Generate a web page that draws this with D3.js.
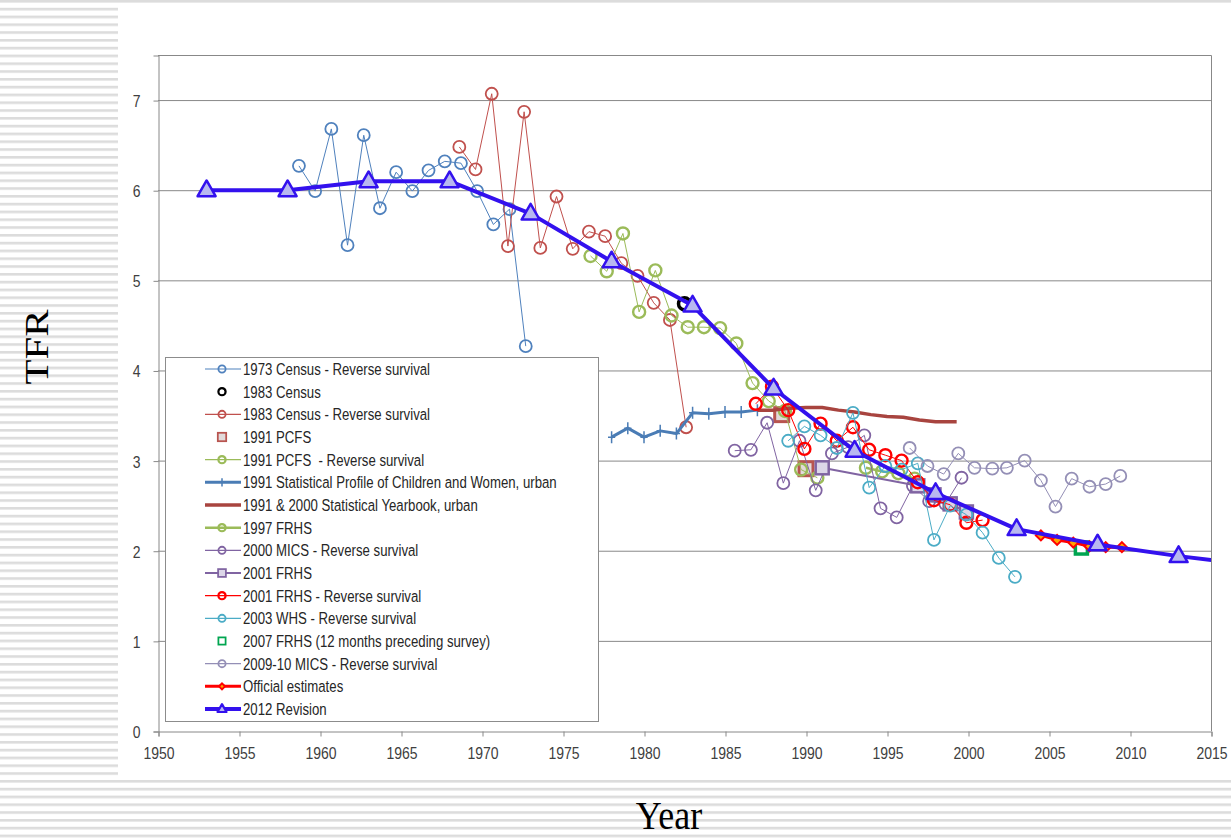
<!DOCTYPE html>
<html>
<head>
<meta charset="utf-8">
<script src="https://cdn.jsdelivr.net/npm/d3@7"></script>
<style>
  html, body { margin: 0; padding: 0; background: #fff; }
  svg { display: block; }
</style>
</head>
<body>
<svg id="chart" width="1231" height="838"></svg>
<script>
// ---- Data: total fertility rate estimates by source, [year, TFR] ----
const census1973RS = [[1958.7,6.27],[1959.7,5.99],[1960.7,6.68],[1961.7,5.39],[1962.7,6.61],[1963.7,5.80],[1964.7,6.20],[1965.7,5.99],[1966.7,6.22],[1967.7,6.32],[1968.7,6.30],[1969.7,5.99],[1970.7,5.62],[1971.7,5.79],[1972.7,4.27]];
const census1983 = [[1982.5,4.74]];
const census1983RS = [[1968.6,6.48],[1969.6,6.23],[1970.6,7.07],[1971.6,5.38],[1972.6,6.87],[1973.6,5.36],[1974.6,5.93],[1975.6,5.35],[1976.6,5.54],[1977.6,5.49],[1978.6,5.19],[1979.6,5.05],[1980.6,4.75],[1981.6,4.56],[1982.6,3.37]];
const pcfs1991 = [[1988.5,3.51],[1990.0,2.91]];
const pcfs1991RS = [[1976.7,5.27],[1977.7,5.10],[1978.7,5.52],[1979.7,4.65],[1980.7,5.11],[1981.7,4.61],[1982.7,4.48],[1983.7,4.48],[1984.7,4.47],[1985.7,4.30],[1986.7,3.86],[1987.7,3.66],[1988.7,3.55],[1989.7,2.90],[1990.7,2.81]];
const statProfile1991 = [[1978,3.26],[1979,3.36],[1980,3.26],[1981,3.33],[1982,3.30],[1983,3.53],[1984,3.52],[1985,3.54],[1986,3.54],[1987,3.56]];
const yearbookUrban = [[1987,3.56],[1988,3.56],[1989,3.58],[1990,3.59],[1991,3.59],[1992,3.56],[1993,3.54],[1994,3.51],[1995,3.49],[1996,3.48],[1997,3.45],[1998,3.43],[1999.3,3.43]];
const frhs1997 = [[1993.7,2.92],[1994.7,2.88],[1995.7,2.86],[1996.7,2.80]];
const mics2000RS = [[1985.6,3.11],[1986.6,3.12],[1987.6,3.42],[1988.6,2.75],[1989.6,3.22],[1990.6,2.67],[1991.6,3.08],[1992.6,3.15],[1993.6,3.28],[1994.6,2.47],[1995.6,2.37],[1996.6,2.72],[1997.6,2.55],[1998.6,2.52],[1999.6,2.81]];
const frhs2001 = [[1991.0,2.92],[1996.9,2.72],[1997.9,2.62],[1998.9,2.52],[1999.9,2.43]];
const frhs2001RS = [[1986.9,3.63],[1987.9,3.82],[1988.9,3.56],[1989.9,3.13],[1990.9,3.41],[1991.9,3.22],[1992.9,3.37],[1993.9,3.12],[1994.9,3.06],[1995.9,3.00],[1996.9,2.76],[1997.9,2.56],[1998.9,2.51],[1999.9,2.31],[2000.9,2.34]];
const whs2003RS = [[1988.9,3.22],[1989.9,3.38],[1990.9,3.28],[1991.9,3.14],[1992.9,3.53],[1993.9,2.70],[1994.9,2.94],[1995.9,2.90],[1996.9,2.97],[1997.9,2.12],[1998.9,2.50],[1999.9,2.40],[2000.9,2.20],[2001.9,1.92],[2002.9,1.71]];
const frhs2007 = [[2007.0,2.03]];
const mics2010RS = [[1996.4,3.14],[1997.5,2.94],[1998.5,2.85],[1999.4,3.08],[2000.4,2.92],[2001.5,2.91],[2002.4,2.92],[2003.5,3.00],[2004.5,2.78],[2005.4,2.49],[2006.4,2.80],[2007.5,2.71],[2008.5,2.74],[2009.4,2.83]];
const officialEstimates = [[2004.5,2.17],[2005.5,2.12],[2006.5,2.09],[2007.5,2.05],[2008.5,2.04],[2009.5,2.04]];
const revision2012 = [[1953,6.00],[1958,6.00],[1963,6.10],[1968,6.10],[1973,5.74],[1978,5.21],[1983,4.72],[1988,3.80],[1993,3.11],[1998,2.64],[2003,2.24],[2008,2.07],[2013,1.94],[2018,1.83]];

const yearTicks = [1950,1955,1960,1965,1970,1975,1980,1985,1990,1995,2000,2005,2010,2015];
const tfrTicks = [0,1,2,3,4,5,6,7];

// Series styling, in drawing / legend order
const series = [
  {name: "1973 Census - Reverse survival", data: census1973RS, color: "#4f81bd", lw: 1, marker: "circle", ms: 6, mw: 1.8},
  {name: "1983 Census", data: census1983, color: "#000000", lw: 0, marker: "circle", ms: 6, mw: 3.5},
  {name: "1983 Census - Reverse survival", data: census1983RS, color: "#c0504d", lw: 1, marker: "circle", ms: 6, mw: 1.8},
  {name: "1991 PCFS", data: pcfs1991, color: "#b8544f", lw: 0, marker: "square", ms: 14, mw: 3, fill: "#e2dada"},
  {name: "1991 PCFS  - Reverse survival", data: pcfs1991RS, color: "#9bbb59", lw: 1, marker: "circle", ms: 6, mw: 2.4},
  {name: "1991 Statistical Profile of Children and Women, urban", data: statProfile1991, color: "#4a7cb5", lw: 3, marker: "plus", ms: 12, mw: 1.5},
  {name: "1991 & 2000 Statistical Yearbook, urban", data: yearbookUrban, color: "#a8443f", lw: 3.5, marker: null},
  {name: "1997 FRHS", data: frhs1997, color: "#9bbb59", lw: 2.5, marker: "circle", ms: 6, mw: 2.4},
  {name: "2000 MICS - Reverse survival", data: mics2000RS, color: "#8064a2", lw: 1, marker: "circle", ms: 6, mw: 1.8},
  {name: "2001 FRHS", data: frhs2001, color: "#8064a2", lw: 2, marker: "square", ms: 13, mw: 2.5, fill: "#dcd6e8"},
  {name: "2001 FRHS - Reverse survival", data: frhs2001RS, color: "#ff0000", lw: 1, marker: "circle", ms: 6, mw: 2.4},
  {name: "2003 WHS - Reverse survival", data: whs2003RS, color: "#4bacc6", lw: 1, marker: "circle", ms: 6, mw: 1.8},
  {name: "2007 FRHS (12 months preceding survey)", data: frhs2007, color: "#00a550", lw: 0, marker: "square", ms: 12, mw: 3.5, fill: "#ffffff"},
  {name: "2009-10 MICS - Reverse survival", data: mics2010RS, color: "#948fb6", lw: 1, marker: "circle", ms: 6, mw: 1.8},
  {name: "Official estimates", data: officialEstimates, color: "#ff0000", lw: 3, marker: "diamond", ms: 10, mw: 2, fill: "#ffa200"},
  {name: "2012 Revision", data: revision2012, color: "#3311ee", lw: 4, marker: "triangle", ms: 18, mw: 2.5, fill: "#b8b8f0"}
];

// ---- Layout ----
const W = 1231, H = 838;
const plot = {left: 158, right: 1211, top: 55, bottom: 731};
const svg = d3.select("#chart");

const x = d3.scaleLinear().domain([1950, 2015]).range([plot.left, plot.right]);
const y = d3.scaleLinear().domain([0, 7.5]).range([plot.bottom, plot.top]);

// Slide background: light horizontal stripes around a white panel
const defs = svg.append("defs");
const pat = defs.append("pattern").attr("id", "stripes")
  .attr("patternUnits", "userSpaceOnUse").attr("width", 8).attr("height", 7.8);
pat.append("rect").attr("width", 8).attr("height", 7.8).attr("fill", "#ffffff");
pat.append("rect").attr("y", 0).attr("width", 8).attr("height", 2.6).attr("fill", "#dcdcdc");
defs.append("clipPath").attr("id", "plotClip").append("rect")
  .attr("x", plot.left).attr("y", plot.top - 10)
  .attr("width", plot.right - plot.left).attr("height", plot.bottom - plot.top + 20);

svg.append("rect").attr("width", W).attr("height", H).attr("fill", "url(#stripes)");
svg.append("rect").attr("x", 118).attr("y", 7).attr("width", W - 118).attr("height", 773).attr("fill", "#ffffff");

// Text helper: glyphs are drawn slightly taller than wide
function place(sel, tx, ty, sy, rot) {
  sel.attr("x", null).attr("y", null).attr("dy", null)
     .attr("transform", `translate(${tx},${ty})${rot ? ` rotate(${rot})` : ""} scale(${rot ? sy : 1},${rot ? 1 : sy})`);
}

const gridColor = "#888888";

// Horizontal gridlines
svg.append("g").selectAll("line").data(tfrTicks.filter(d => d > 0)).join("line")
  .attr("x1", plot.left).attr("x2", plot.right)
  .attr("y1", d => y(d) + 0.5).attr("y2", d => y(d) + 0.5)
  .attr("stroke", gridColor).attr("stroke-width", 1);

// Plot frame (top and right edges)
svg.append("path")
  .attr("d", `M${plot.left},${plot.top + 0.5}H${plot.right + 0.5}V${plot.bottom}`)
  .attr("fill", "none").attr("stroke", gridColor).attr("stroke-width", 1);

// Axes
const yAxis = svg.append("g").attr("transform", `translate(${plot.left + 0.5},0.5)`)
  .call(d3.axisLeft(y).tickValues(tfrTicks).tickSize(5).tickFormat(d3.format("d")));
const xAxis = svg.append("g").attr("transform", `translate(0.5,${plot.bottom + 0.5})`)
  .call(d3.axisBottom(x).tickValues(yearTicks).tickSize(5).tickFormat(d3.format("d")));

[yAxis, xAxis].forEach(g => {
  g.select(".domain").attr("stroke", gridColor);
  g.selectAll(".tick line").attr("stroke", gridColor);
  g.selectAll(".tick text").attr("fill", "#404040")
    .style("font-family", "'Liberation Sans', Arial, sans-serif").style("font-size", "14px");
});
yAxis.selectAll(".tick text").each(function() { place(d3.select(this), -18, 6, 1.18); });
xAxis.selectAll(".tick text").each(function() { place(d3.select(this), 0, 27, 1.18); });

// Marker drawing
function drawMarker(g, s, cx, cy, scale) {
  const k = scale || 1;
  const fill = s.fill || "none";
  if (s.marker === "circle") {
    g.append("circle").attr("cx", cx).attr("cy", cy).attr("r", s.ms * k)
      .attr("fill", "none").attr("stroke", s.color).attr("stroke-width", s.mw);
  } else if (s.marker === "square") {
    const h = s.ms * k / 2;
    g.append("rect").attr("x", cx - h).attr("y", cy - h).attr("width", 2 * h).attr("height", 2 * h)
      .attr("fill", fill).attr("stroke", s.color).attr("stroke-width", s.mw * (k < 1 ? 0.8 : 1));
  } else if (s.marker === "plus") {
    const h = s.ms * k / 2;
    g.append("path").attr("d", `M${cx - h * 0.6},${cy}H${cx + h * 0.6}M${cx},${cy - h}V${cy + h}`)
      .attr("stroke", s.color).attr("stroke-width", s.mw).attr("fill", "none");
  } else if (s.marker === "diamond") {
    const h = s.ms * k / 2;
    g.append("path").attr("d", `M${cx},${cy - h}L${cx + h},${cy}L${cx},${cy + h}L${cx - h},${cy}Z`)
      .attr("fill", fill).attr("stroke", s.color).attr("stroke-width", s.mw);
  } else if (s.marker === "triangle") {
    const w = s.ms * k, hh = w * 0.87;
    g.append("path").attr("d", `M${cx},${cy - hh * 0.62}L${cx + w / 2},${cy + hh * 0.38}L${cx - w / 2},${cy + hh * 0.38}Z`)
      .attr("fill", fill).attr("stroke", s.color).attr("stroke-width", s.mw).attr("stroke-linejoin", "round");
  }
}

// Series
const plotG = svg.append("g").attr("clip-path", "url(#plotClip)");
const line = d3.line().x(d => x(d[0])).y(d => y(d[1]));
series.forEach(s => {
  const g = plotG.append("g");
  if (s.lw > 0) {
    g.append("path").datum(s.data).attr("d", line)
      .attr("fill", "none").attr("stroke", s.color).attr("stroke-width", s.lw)
      .attr("stroke-linejoin", "round");
  }
  if (s.marker) s.data.forEach(d => drawMarker(g, s, x(d[0]), y(d[1]), 1));
});

// Legend
const lg = svg.append("g");
const legBox = {x: 165, y: 357, w: 433, h: 364};
lg.append("rect").attr("x", legBox.x + 0.5).attr("y", legBox.y + 0.5)
  .attr("width", legBox.w).attr("height", legBox.h)
  .attr("fill", "#ffffff").attr("stroke", "#8c8c8c").attr("stroke-width", 1);
const rowY = d3.scaleLinear().domain([0, series.length - 1]).range([369, 709]);
series.forEach((s, i) => {
  const cy = rowY(i);
  const row = lg.append("g");
  if (s.lw > 0) {
    row.append("line").attr("x1", 205).attr("x2", 241).attr("y1", cy).attr("y2", cy)
      .attr("stroke", s.color).attr("stroke-width", Math.max(s.lw, 1.2));
  }
  if (s.marker) {
    const k = s.marker === "circle" ? 0.6 : s.marker === "triangle" ? 0.5 : s.marker === "plus" ? 0.7 : 0.6;
    drawMarker(row, Object.assign({}, s, {mw: Math.min(s.mw, 2.2)}), 222, cy, k);
  }
  const t = row.append("text").text(s.name)
    .attr("fill", "#262626").style("font-family", "'Liberation Sans', Arial, sans-serif")
    .style("font-size", "13.2px").style("white-space", "pre");
  place(t, 243, cy + 6, 1.28);
});

// Axis titles
const tfr = svg.append("text").text("TFR").attr("text-anchor", "middle")
  .style("font-family", "'Liberation Serif', 'Times New Roman', serif").style("font-size", "33px").attr("fill", "#000");
place(tfr, 48, 347, 1.24, -90);
const yr = svg.append("text").text("Year").attr("text-anchor", "middle")
  .style("font-family", "'Liberation Serif', 'Times New Roman', serif").style("font-size", "36px").attr("fill", "#000");
place(yr, 669, 829, 1.12);
</script>
</body>
</html>
